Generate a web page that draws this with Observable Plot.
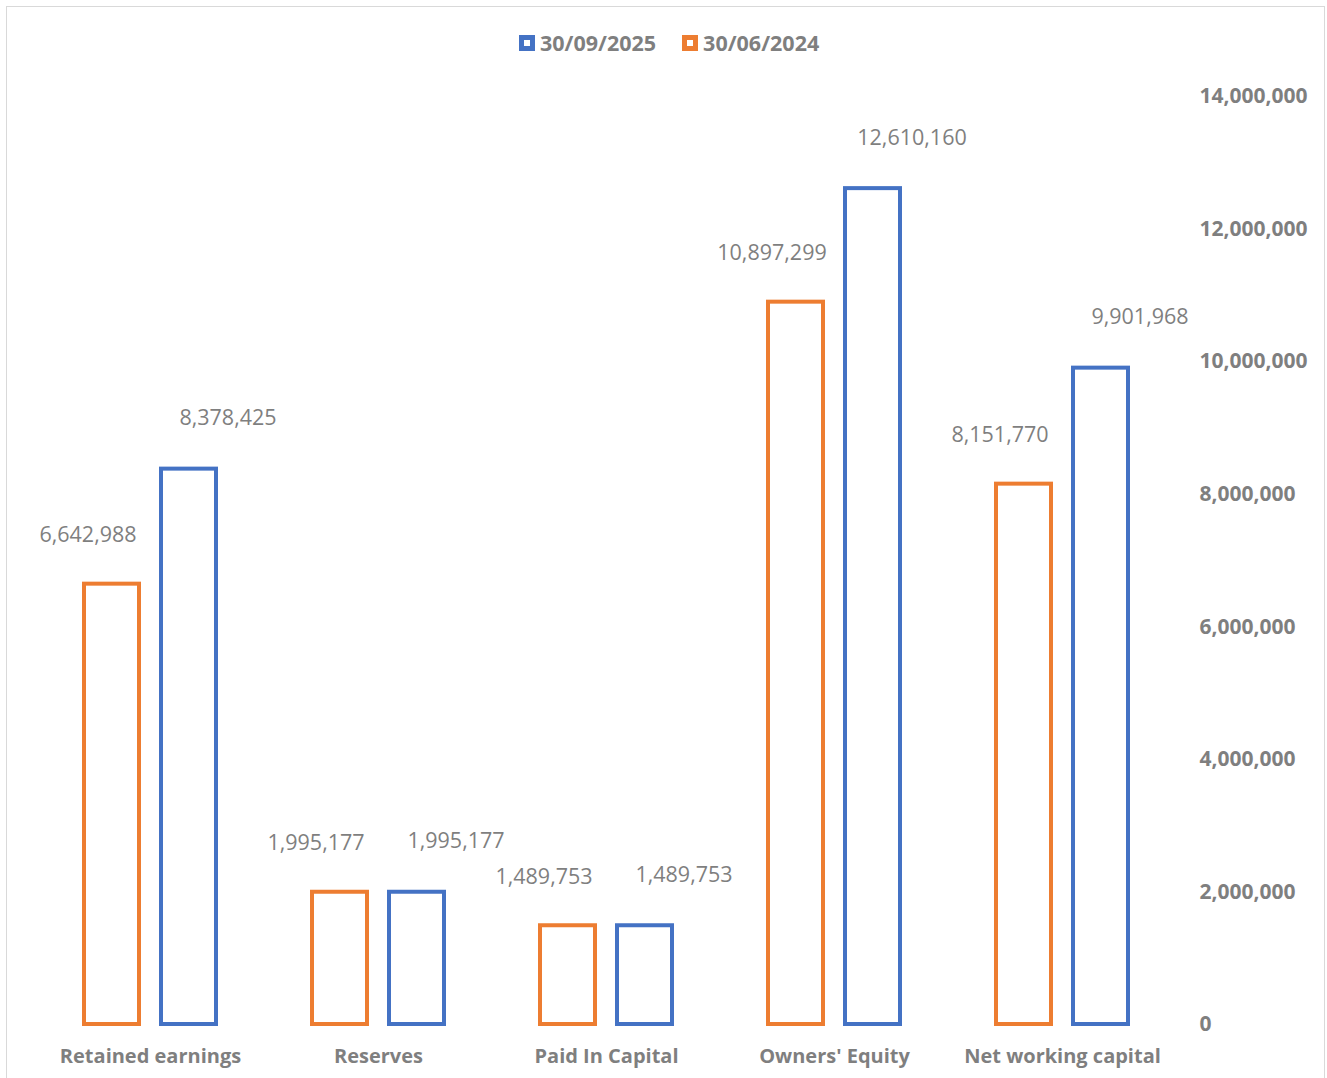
<!DOCTYPE html>
<html>
<head>
<meta charset="utf-8">
<script src="https://cdn.jsdelivr.net/npm/d3@7"></script>
<script src="https://cdn.jsdelivr.net/npm/@observablehq/plot@0.6"></script>
<style>
  html, body { margin: 0; padding: 0; background: #fff; overflow: hidden; }
  #wrap { position: relative; width: 1327px; height: 1078px; overflow: hidden; font-family: "Open Sans", sans-serif; }
  #frame { position: absolute; left: 6px; top: 6px; width: 1319px; height: 1100px; border: 1px solid #d9d9d9; box-sizing: border-box; pointer-events: none; }
  #legend { position: relative; height: 70px; }
  #legendInner { position: absolute; left: 519px; top: 28px; display: flex; align-items: center; gap: 26px; }
  .item { display: flex; align-items: center; gap: 5px; font-weight: 700; font-size: 21.5px; color: #7f7f7f; line-height: 30px; }
  .sw { width: 16px; height: 16px; border: 5px solid; box-sizing: border-box; background: #fff; }
  #chart { position: absolute; left: 0; top: 70px; }
</style>
</head>
<body>
<div id="wrap">
  <div id="legend"><div id="legendInner"></div></div>
  <div id="chart"></div>
  <div id="frame"></div>
</div>
<script>
const categories = ["Retained earnings", "Reserves", "Paid In Capital", "Owners' Equity", "Net working capital"];
const seriesNames = ["30/06/2024", "30/09/2025"];
const legendOrder = ["30/09/2025", "30/06/2024"];
const values2024 = [6642988, 1995177, 1489753, 10897299, 8151770];
const values2025 = [8378425, 1995177, 1489753, 12610160, 9901968];
const yTicks = [0, 2000000, 4000000, 6000000, 8000000, 10000000, 12000000, 14000000];
const seriesColors = {"30/06/2024": "#ED7D31", "30/09/2025": "#4472C4"};

const data = [];
categories.forEach((c, i) => {
  data.push({category: c, series: seriesNames[0], value: values2024[i]});
  data.push({category: c, series: seriesNames[1], value: values2025[i]});
});

const fmt = d3.format(",");
const gray = "#7f7f7f";

const legendInner = document.getElementById("legendInner");
legendOrder.forEach(s => {
  const it = document.createElement("div");
  it.className = "item";
  const sw = document.createElement("div");
  sw.className = "sw";
  sw.style.borderColor = seriesColors[s];
  const tx = document.createElement("span");
  tx.textContent = s;
  it.appendChild(sw);
  it.appendChild(tx);
  legendInner.appendChild(it);
});

const chart = Plot.plot({
  width: 1327,
  height: 1008,
  marginTop: 26,
  marginBottom: 54,
  marginLeft: 36,
  marginRight: 151,
  style: {fontFamily: "Open Sans", background: "transparent", overflow: "visible"},
  fx: {domain: categories, padding: 0, axis: null, label: null},
  x: {domain: seriesNames, paddingInner: 0.29, paddingOuter: 0.616, axis: null},
  y: {domain: [0, 14000000], axis: null, label: null},
  color: {domain: seriesNames, range: seriesNames.map(s => seriesColors[s])},
  marks: [
    Plot.barY(data, {fx: "category", x: "series", y: "value", fill: "white", stroke: "series", strokeWidth: 4}),
    Plot.text(data.filter(d => d.series === seriesNames[0]), {
      fx: "category", x: "series", y: "value", text: d => fmt(d.value),
      dx: -24, dy: -49, fill: gray, fontSize: 21.5
    }),
    Plot.text(data.filter(d => d.series === seriesNames[1]), {
      fx: "category", x: "series", y: "value", text: d => fmt(d.value),
      dx: 39, dy: -51, fill: gray, fontSize: 21.5
    }),
    Plot.axisY({anchor: "right", ticks: yTicks, tickFormat: fmt, tickSize: 0, tickPadding: 23, label: null,
      fontSize: 21, fontWeight: "bold", fill: gray, textAnchor: "start"}),
    Plot.axisFx({anchor: "bottom", tickSize: 0, tickPadding: 24, label: null, fontSize: 20, fontWeight: "bold", fill: gray})
  ]
});
document.getElementById("chart").appendChild(chart);
</script>
</body>
</html>
